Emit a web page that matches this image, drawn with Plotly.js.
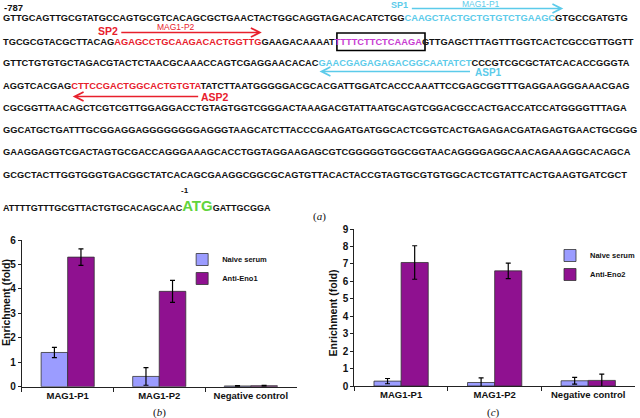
<!DOCTYPE html>
<html><head><meta charset="utf-8">
<script src="https://cdn.plot.ly/plotly-3.0.1.min.js"></script>
<style>html,body{margin:0;padding:0;background:#fff}#plot{width:640px;height:418px}</style>
</head><body><div id="plot"></div>
<script>
// ---------- data ----------
const categories = ["MAG1-P1", "MAG1-P2", "Negative control"];
const naiveB = [1.40, 0.42, 0.03];
const naiveBErr = [0.21, 0.36, 0.02];
const antiEno1 = [5.30, 3.90, 0.04];
const antiEno1Err = [0.34, 0.45, 0.02];
const naiveC = [0.28, 0.20, 0.30];
const naiveCErr = [0.15, 0.27, 0.19];
const antiEno2 = [7.08, 6.60, 0.32];
const antiEno2Err = [0.96, 0.44, 0.36];
const seriesNames = ["Naive serum", "Anti-Eno1", "Anti-Eno2"];
const yTitle = "Enrichment (fold)";

// sequence lines: [segment, colour key]
const seqLine1 = [["GTTGCAGTTGCGTATGCCAGTGCGTCACAGCGCTGAACTACTGGCAGGTAGACACATCTGG","k"],["CAAGCTACTGCTGTGTCTGAAGC","c"],["GTGCCGATGTG","k"]];
const seqLine2 = [["TGCGCGTACGCTTACAG","k"],["AGAGCCTGCAAGACACTGGTTG","r"],["GAAGACAAAAT","k"],["TTTTCTTCTCAAGA","m"],["GTTGAGCTTTAGTTTGGTCACTCGCCGTTGGTT","k"]];
const seqLine3 = [["GTTCTGTGTGCTAGACGTACTCTAACGCAAACCAGTCGAGGAACACAC","k"],["GAACGAGAGAGACGGCAATATCT","c"],["CCCGTCGCGCTATCACACCGGGTA","k"]];
const seqLine4 = [["AGGTCACGAG","k"],["CTTCCGACTGGCACTGTGTA","r"],["TATCTTAATGGGGGACGCACGATTGGATCACCCAAATTCCGAGCGGTTTGAGGAAGGGAAACGAG","k"]];
const seqLine5 = [["CGCGGTTAACAGCTCGTCGTTGGAGGACCTGTAGTGGTCGGGACTAAAGACGTATTAATGCAGTCGGACGCCACTGACCATCCATGGGGTTTAGA","k"]];
const seqLine6 = [["GGCATGCTGATTTGCGGAGGAGGGGGGGGAGGGTAAGCATCTTACCCGAAGATGATGGCACTCGGTCACTGAGAGACGATAGAGTGAACTGCGGG","k"]];
const seqLine7 = [["GAAGGAGGTCGACTAGTGCGACCAGGGAAAGCACCTGGTAGGAAGAGCGTCGGGGGTGGCGGTAACAGGGGAGGCAACAGAAAGGCACAGCA","k"]];
const seqLine8 = [["GCGCTACTTGGTGGGTGACGGCTATCACAGCGAAGGCGGCGCAGTGTTACACTACCGTAGTGCGTGTGGCACTCGTATTCACTGAAGTGATCGCT","k"]];
const seqLine9 = [["ATTTTGTTTGCGTTACTGTGCACAGCAAC","k"],["ATG","g"],["GATTGCGGA","k"]];

// ---------- styling ----------
const W = 640, H = 418;
const px = v => v / W, py = v => 1 - v / H;
const COL = {k:"#111111", c:"#5ccbea", r:"#e8202c", m:"#c83cd2", g:"#62d43c"};
const NAIVE = "#9b9cff", ANTI = "#8f1190";
const SEQ_FONT = "Liberation Sans, Arial, sans-serif";
const B = s => "<b>" + s + "</b>";

function seqHTML(line){
  return B(line.map(([s,k]) => {
    if (k === "k") return s;
    if (k === "g") return '<span style="color:'+COL.g+';font-size:15px">'+s+'</span>';
    return '<span style="color:'+COL[k]+'">'+s+'</span>';
  }).join(""));
}

const seqLines = [seqLine1,seqLine2,seqLine3,seqLine4,seqLine5,seqLine6,seqLine7,seqLine8,seqLine9];
const seqY = [18, 41.5, 63.5, 86, 108, 130, 152.5, 175, 205.5];
const seqSize = [9.3, 9.3, 9.3, 9.3, 9.3, 9.3, 9.3, 9.3, 9.0];

const annotations = [];
seqLines.forEach((ln,i)=>{
  annotations.push({xref:"paper", yref:"paper", x:px(1.5), y:py(seqY[i]), xanchor:"left", yanchor:"middle",
    showarrow:false, text:seqHTML(ln), font:{family:SEQ_FONT, size:seqSize[i], color:COL.k}});
});
function lab(text, x, y, size, color, anchor, family){
  annotations.push({xref:"paper", yref:"paper", x:px(x), y:py(y), xanchor:anchor||"left", yanchor:"middle",
    showarrow:false, text:text, font:{family:family||SEQ_FONT, size:size, color:color}});
}
const SERIF = "Liberation Serif, Times New Roman, serif";
lab(B("-787"), 2.5, 8, 9.5, COL.k);
lab(B("-1"), 180, 190.5, 8, COL.k);
lab(B("SP1"), 390.5, 5, 9, COL.c);
lab("MAG1-P1", 462, 3.5, 8.5, COL.c);
lab(B("SP2"), 96, 31, 10.5, COL.r);
lab("MAG1-P2", 156, 26.5, 8.5, COL.r);
lab(B("ASP1"), 475.5, 73, 10, COL.c);
lab(B("ASP2"), 200, 97, 10.5, COL.r);
lab("(<i>a</i>)", 312, 216, 11, COL.k, "left", SERIF);
lab("(<i>b</i>)", 160, 412, 11, COL.k, "center", SERIF);
lab("(<i>c</i>)", 496, 412, 11, COL.k, "center", SERIF);

// y axis titles
[[6, 302], [335, 313]].forEach(([x, y]) => {
  annotations.push({xref:"paper", yref:"paper", x:px(x), y:py(y), xanchor:"center", yanchor:"middle",
    textangle:-90, showarrow:false, text:B(yTitle), font:{family:SEQ_FONT, size:10.5, color:COL.k}});
});

// primer arrows
function arrow(xh, yh, xt, color){
  annotations.push({xref:"paper", yref:"paper", x:px(xh), y:py(yh), ax:xt - xh, ay:0, text:"",
    showarrow:true, arrowhead:5, arrowsize:1.1, arrowwidth:1.6, arrowcolor:color, standoff:0, startstandoff:0});
}
arrow(566, 8.5, 413, COL.c);
arrow(263, 32.5, 121, COL.r);
arrow(321, 71.5, 473, COL.c);
arrow(73, 96.5, 200, COL.r);

const shapes = [{type:"rect", xref:"paper", yref:"paper", x0:px(338.5), x1:px(427), y0:py(33), y1:py(50.5),
  line:{color:"#000", width:1.6}, fillcolor:"rgba(0,0,0,0)"}];

function barTrace(y, err, name, color, xa, ya, leg){
  return {type:"bar", x:categories, y:y, name:B(name), xaxis:xa, yaxis:ya, legend:leg,
    marker:{color:color, line:{color:"#333", width:0.8}},
    error_y:{type:"data", array:err, visible:true, color:"#000", thickness:1.2, width:2.5}};
}
const traces = [
  barTrace(naiveB, naiveBErr, seriesNames[0], NAIVE, "x", "y", "legend"),
  barTrace(antiEno1, antiEno1Err, seriesNames[1], ANTI, "x", "y", "legend"),
  barTrace(naiveC, naiveCErr, seriesNames[0], NAIVE, "x2", "y2", "legend2"),
  barTrace(antiEno2, antiEno2Err, seriesNames[2], ANTI, "x2", "y2", "legend2")
];

const tickFont = {family:SEQ_FONT, size:10, color:"#111", weight:700};
const xBase = {type:"category", showline:true, linecolor:"#222", linewidth:1, ticks:"outside", tickson:"boundaries",
  ticklen:4, tickcolor:"#222", showgrid:false, zeroline:false, tickfont:{...tickFont, size:9.5}, fixedrange:true,
  tickmode:"array", tickvals:categories, ticktext:categories.map(B)};
const yBase = {showline:true, linecolor:"#222", linewidth:1, ticks:"outside", ticklen:3, tickcolor:"#222",
  showgrid:false, zeroline:false, dtick:1, tickfont:tickFont, fixedrange:true};
const legBase = {xanchor:"left", yanchor:"top", bgcolor:"rgba(0,0,0,0)", font:{family:SEQ_FONT, size:7.5, color:"#111", weight:700},
  itemwidth:30, tracegroupgap:0};

const layout = {
  width:W, height:H, margin:{l:0, r:0, t:0, b:0}, paper_bgcolor:"#fff", plot_bgcolor:"rgba(0,0,0,0)",
  barmode:"group", bargap:0.42, bargroupgap:0,
  xaxis:{...xBase, domain:[px(22), px(298)], anchor:"y"},
  yaxis:{...yBase, domain:[py(386.7), py(240)], range:[0,6], anchor:"x"},
  xaxis2:{...xBase, domain:[px(356), px(638)], anchor:"y2"},
  yaxis2:{...yBase, domain:[py(386), py(229)], range:[0,9], anchor:"x2"},
  legend:{...legBase, x:px(183), y:py(245)},
  legend2:{...legBase, x:px(553), y:py(241)},
  showlegend:true,
  annotations:annotations, shapes:shapes
};
Plotly.newPlot("plot", traces, layout, {displayModeBar:false, staticPlot:true});
</script></body></html>
